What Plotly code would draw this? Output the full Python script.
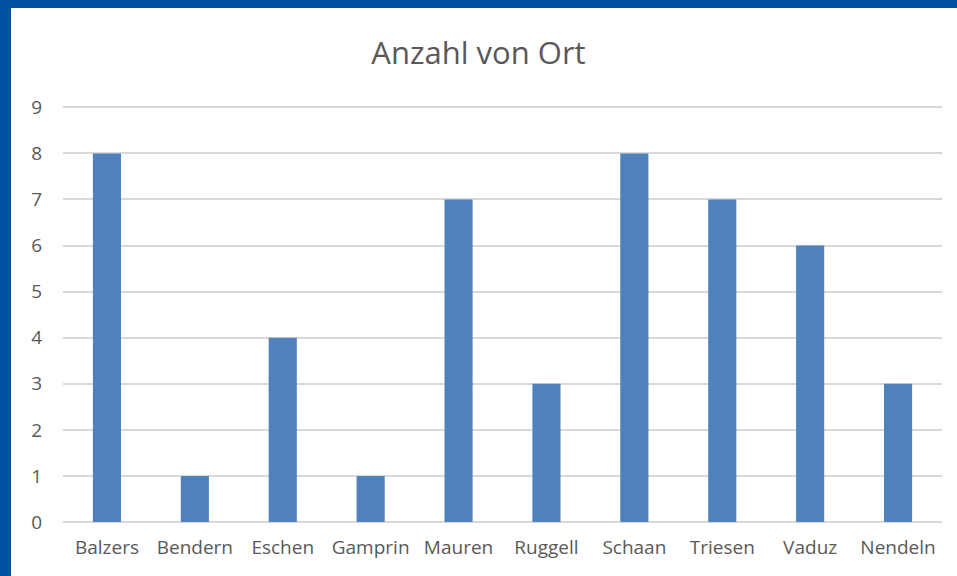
import plotly.graph_objects as go

categories = ["Balzers", "Bendern", "Eschen", "Gamprin", "Mauren", "Ruggell", "Schaan", "Triesen", "Vaduz", "Nendeln"]
counts = [8, 1, 4, 1, 7, 3, 8, 7, 6, 3]
y_ticks = [0, 1, 2, 3, 4, 5, 6, 7, 8, 9]

W, H = 957, 576
L, R, T, B = 63, 15, 105, 54
pw, ph = W - L - R, H - T - B

def px_x(p):
    return (p - L) / pw

def px_y(p):
    return (H - B - p) / ph

fig = go.Figure(go.Bar(x=categories, y=counts, marker_color="#4F81BD", marker_line_width=0, width=0.32))

fig.update_layout(
    width=W, height=H,
    margin=dict(l=L, r=R, t=T, b=B),
    paper_bgcolor="white", plot_bgcolor="white",
    font=dict(family="Open Sans", color="#595959", size=18),
    title=dict(text="Anzahl von Ort", x=0.5, xanchor="center", y=1 - 53 / H, yanchor="middle",
               font=dict(size=31, color="#595959")),
    showlegend=False,
    shapes=[
        dict(type="rect", xref="paper", yref="paper", x0=px_x(0), x1=px_x(11), y0=px_y(H), y1=px_y(0),
             fillcolor="#0053A0", line_width=0, layer="above"),
        dict(type="rect", xref="paper", yref="paper", x0=px_x(0), x1=px_x(W), y0=px_y(8), y1=px_y(0),
             fillcolor="#0053A0", line_width=0, layer="above"),
    ],
)
fig.update_xaxes(showgrid=False, showline=False, ticks="", ticklabelstandoff=12,
                 tickfont=dict(size=19, color="#595959"))
fig.update_yaxes(range=[0, 9.05], tickvals=y_ticks, showgrid=True, gridcolor="#D9D9D9", gridwidth=1.5,
                 zeroline=True, zerolinecolor="#D9D9D9", zerolinewidth=1.5, ticks="", ticklen=0,
                 ticklabelstandoff=20, tickfont=dict(size=19, color="#595959"))
fig.write_html("out.html", config={"displayModeBar": False},
               post_script="document.body.style.margin='0';document.body.style.padding='0';")
